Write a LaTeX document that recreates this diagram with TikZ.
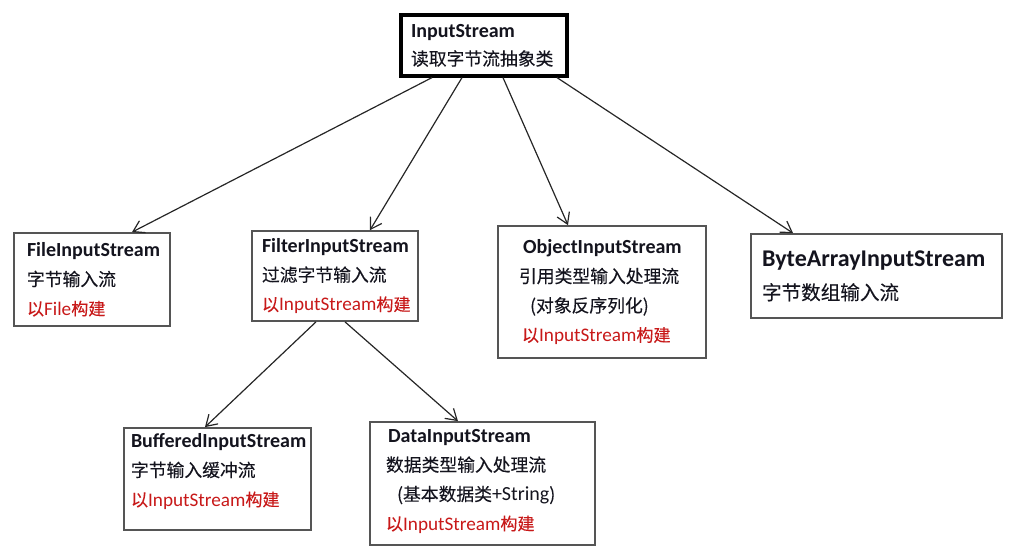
\documentclass[tikz,border=0pt]{standalone}
\usepackage{fontspec}
\setmainfont{Carlito}
\newfontfamily\cjk{Noto Sans CJK SC}[Scale=0.89,FakeBold=0.15]
\usetikzlibrary{arrows.meta}
\definecolor{redtxt}{RGB}{200,25,25}
\definecolor{boxline}{RGB}{85,85,85}
\definecolor{txt}{RGB}{20,20,30}
\newcommand{\zh}[1]{{\cjk #1}}
\newcommand{\rd}[1]{\textcolor{redtxt}{\fontsize{14.4}{22}\selectfont #1}}
\newcommand{\ind}[1]{\hspace*{#1}}
\begin{document}
\begin{tikzpicture}[x=0.75pt,y=-0.75pt,
  box/.style={draw=boxline,line width=1.3pt,fill=white,rectangle,align=left,
    inner sep=0pt,text=txt,font=\fontsize{15}{22}\selectfont},
  conn/.style={draw=black!85,line width=0.9pt,
    -{Straight Barb[length=8pt,width=10pt,line width=0.9pt]}}]
\useasboundingbox (0,0) rectangle (1021,557);

\node[box,draw=black,line width=2.4pt,text width=124.5pt,minimum height=45.75pt,
  font=\fontsize{15}{21}\selectfont] (top) at (484,45.5)
  {\ind{7.5pt}\textbf{InputStream}\\\ind{7.5pt}\zh{读取字节流抽象类}};

\node[box,text width=117pt,minimum height=69.75pt] (file) at (92,279.5)
  {\ind{9.75pt}\textbf{FileInputStream}\\\ind{9.75pt}\zh{字节输入流}\\\ind{9.75pt}\rd{\zh{以}File\zh{构建}}};

\node[box,text width=124.5pt,minimum height=67.5pt] (filter) at (335,276)
  {\ind{7.5pt}\textbf{FilterInputStream}\\\ind{7.5pt}\zh{过滤字节输入流}\\\ind{7.5pt}\rd{\zh{以}InputStream\zh{构建}}};

\node[box,text width=156pt,minimum height=99pt] (object) at (602,292)
  {\ind{18.75pt}\textbf{ObjectInputStream}\\\ind{15.75pt}\zh{引用类型输入处理流}\\\ind{24pt}\zh{(对象反序列化)}\\\ind{18pt}\rd{\zh{以}InputStream\zh{构建}}};

\node[box,text width=188.25pt,minimum height=63pt,font=\fontsize{16.5}{25}\selectfont] (bytearr) at (876.5,276)
  {\ind{8.25pt}{\fontsize{18}{25}\selectfont\textbf{ByteArrayInputStream}}\\\ind{8.25pt}\zh{字节数组输入流}};

\node[box,text width=140.25pt,minimum height=76.5pt] (buffered) at (217.5,479)
  {\ind{5.25pt}\textbf{BufferedInputStream}\\\ind{5.25pt}\zh{字节输入缓冲流}\\\ind{5.25pt}\rd{\zh{以}InputStream\zh{构建}}\\[-8pt]\mbox{}};

\node[box,text width=168.75pt,minimum height=92.25pt] (data) at (482.5,483.5)
  {\ind{13.5pt}\textbf{DataInputStream}\\\ind{12pt}\zh{数据类型输入处理流}\\\ind{20.25pt}\zh{(基本数据类}+String\zh{)}\\\ind{12pt}\rd{\zh{以}InputStream\zh{构建}}\\[-16pt]\mbox{}};

\draw[conn] ([xshift=-39pt]top.south) -- ([xshift=30pt]file.north);
\draw[conn] ([xshift=-16.5pt]top.south) -- ([xshift=26.25pt]filter.north);
\draw[conn] ([xshift=14.25pt]top.south) -- ([xshift=-25.5pt]object.north);
\draw[conn] ([xshift=54.75pt]top.south) -- ([xshift=-62.6pt]bytearr.north);
\draw[conn] ([xshift=-14.25pt]filter.south) -- ([xshift=-9.4pt]buffered.north);
\draw[conn] ([xshift=7.5pt]filter.south) -- ([xshift=-18.4pt]data.north);
\end{tikzpicture}
\end{document}
